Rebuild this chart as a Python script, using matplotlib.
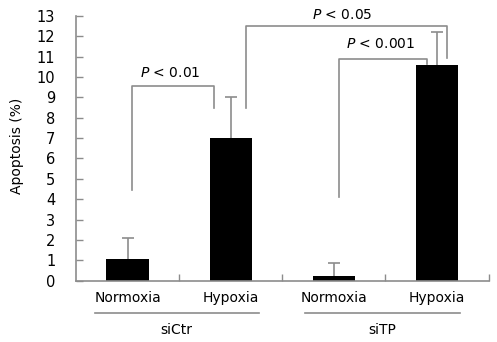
import matplotlib
matplotlib.use('agg')
import matplotlib.pyplot as plt
import numpy as np

conditions = ['Normoxia', 'Hypoxia', 'Normoxia', 'Hypoxia']
groups = ['siCtr', 'siTP']
apoptosis = [1.05, 7.0, 0.25, 10.6]
err_upper = [1.05, 2.0, 0.6, 1.6]
# brackets: (x left, y left bottom, x right, y right bottom, y top, label, text x, text y)
brackets = [
    (0.54, 4.45, 1.34, 8.45, 9.55, 'P < 0.01', 0.91, 10.2),
    (1.65, 8.45, 3.60, 10.95, 12.5, 'P < 0.05', 2.58, 13.05),
    (2.55, 4.1, 3.40, 10.62, 10.88, 'P < 0.001', 2.95, 11.6),
]

plt.rcParams['font.family'] = 'DejaVu Sans'
plt.rcParams['font.size'] = 9

line_col = '#8c8c8c'
fig = plt.figure(figsize=(4.97, 3.42), dpi=100)
ax = fig.add_axes([0.153, 0.179, 0.83, 0.775])

x = np.arange(len(apoptosis)) + 0.5
eb = ax.errorbar(x, apoptosis, yerr=[np.zeros(len(apoptosis)), err_upper], fmt='none',
                 ecolor=line_col, elinewidth=1.2, capsize=4, capthick=1.2, zorder=1)
caps = eb[1]
caps[0].set_visible(False)
caps[1].set_color('#555555')
ax.bar(x, apoptosis, width=0.41, color='black', zorder=2)

ax.set_xlim(0, 4)
ax.set_ylim(0, 13)
ax.set_yticks(range(0, 14))
ax.set_xticks([1, 2, 3, 4])
ax.set_xticklabels([])
ax.tick_params(axis='both', direction='in', color=line_col, length=5, width=1)
ax.tick_params(axis='y', labelsize=10.5, pad=15)
for s in ['top', 'right']:
    ax.spines[s].set_visible(False)
for s in ['left', 'bottom']:
    ax.spines[s].set_color(line_col)
    ax.spines[s].set_linewidth(1.2)
ax.set_ylabel('Apoptosis (%)', fontsize=10)
ax.yaxis.set_label_coords(-0.125, 0.51)

for xl, yl, xr, yr, yt, lab, tx, ty in brackets:
    ax.plot([xl, xl, xr, xr], [yl, yt, yt, yr], color=line_col, lw=1.2, clip_on=False)
    p, rest = lab.split(' ', 1)
    ax.text(tx, ty, r'$\it{P}$ ' + rest, ha='center', va='center', fontsize=10, clip_on=False)

trans = ax.get_xaxis_transform()
for xi, cond in zip(x, conditions):
    ax.text(xi, -0.064, cond, ha='center', va='center', fontsize=10, transform=trans)
group_spans = [(0.18, 1.77), (2.22, 3.72)]
for (a, b), g in zip(group_spans, groups):
    ax.plot([a, b], [-0.123, -0.123], color=line_col, lw=1.2, transform=trans, clip_on=False)
    ax.text((a + b) / 2, -0.184, g, ha='center', va='center', fontsize=10, transform=trans)

fig.savefig('out.png', dpi=100)
